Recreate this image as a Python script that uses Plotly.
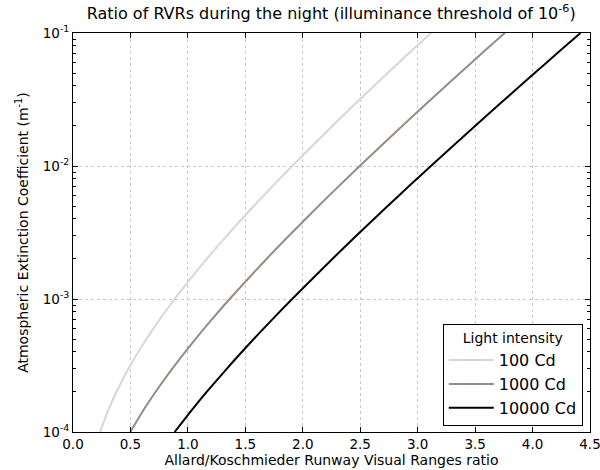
import plotly.graph_objects as go

# Atmospheric extinction coefficient (m^-1)
sigma = [1e-4, 1.5e-4, 2e-4, 3e-4, 5e-4, 7e-4, 1e-3, 2e-3, 3e-3, 5e-3, 7e-3,
         1e-2, 2e-2, 3e-2, 5e-2, 7e-2, 1e-1]
# Allard/Koschmieder RVR ratio for each light intensity
ratio_100 = [0.2345, 0.3128, 0.3781, 0.4839, 0.6391, 0.7535, 0.8845, 1.1637, 1.3400,
             1.5734, 1.7333, 1.9073, 2.2571, 2.4679, 2.7390, 2.9204, 3.1152]
ratio_1000 = [0.4988, 0.6220, 0.7180, 0.8646, 1.0657, 1.2070, 1.3635, 1.6846, 1.8813,
              2.1369, 2.3095, 2.4956, 2.8655, 3.0864, 3.3685, 3.5566, 3.7578]
ratio_10000 = [0.8845, 1.0442, 1.1637, 1.3400, 1.5734, 1.7333, 1.9073, 2.2571, 2.4679,
               2.7390, 2.9204, 3.1152, 3.4998, 3.7279, 4.0184, 4.2115, 4.4173]

series_names = ["100 Cd", "1000 Cd", "10000 Cd"]
series_colors = ["#dcd5d5", "#958b89", "#000000"]

x_ticks = [0.0, 0.5, 1.0, 1.5, 2.0, 2.5, 3.0, 3.5, 4.0, 4.5]
x_ticktext = ["0.0", "0.5", "1.0", "1.5", "2.0", "2.5", "3.0", "3.5", "4.0", "4.5"]
y_ticks = [1e-4, 1e-3, 1e-2, 1e-1]
y_ticktext = ["10<sup>-4</sup>", "10<sup>-3</sup>", "10<sup>-2</sup>", "10<sup>-1</sup>"]
y_minor_ticks = [m * d for d in [1e-4, 1e-3, 1e-2] for m in range(2, 10)]

fig = go.Figure()
for name, xs, col in zip(series_names, [ratio_100, ratio_1000, ratio_10000], series_colors):
    fig.add_trace(go.Scatter(x=xs, y=sigma, mode="lines", name=name,
                             line=dict(color=col, width=2, shape="spline", smoothing=0.8)))

font = "DejaVu Sans"
fig.update_layout(
    width=600, height=470,
    margin=dict(l=73, r=10, t=33, b=38),
    paper_bgcolor="white", plot_bgcolor="white",
    font=dict(family=font, size=13.5, color="black"),
    title=dict(text="Ratio of RVRs during the night (illuminance threshold of 10<sup>-6</sup>)",
               x=0.552, xanchor="center", y=0.983, yanchor="top",
               font=dict(family=font, size=16, color="black")),
    legend=dict(x=0.986, xanchor="right", y=0.015, yanchor="bottom",
                bordercolor="black", borderwidth=1, bgcolor="white",
                font=dict(family=font, size=16),
                title=dict(text="Light intensity", side="top center",
                           font=dict(family=font, size=14)),
                tracegroupgap=2, itemwidth=45),
    showlegend=True,
)
fig.update_xaxes(
    range=[0, 4.5], tickvals=x_ticks, ticktext=x_ticktext, automargin=False,
    ticklabeloverflow="allow",
    showline=True, linecolor="black", linewidth=1, mirror="allticks",
    ticks="inside", ticklen=5, tickcolor="black",
    showgrid=True, gridcolor="#c8c8c8", griddash="dot", gridwidth=1,
    zeroline=False,
    title=dict(text="Allard/Koschmieder Runway Visual Ranges ratio", standoff=0,
               font=dict(family=font, size=14)),
)
fig.update_yaxes(
    type="log", range=[-4, -1], tickvals=y_ticks, ticktext=y_ticktext, automargin=False,
    ticklabeloverflow="allow",
    showline=True, linecolor="black", linewidth=1, mirror="allticks",
    ticks="inside", ticklen=5, tickcolor="black",
    minor=dict(ticks="inside", ticklen=3, tickcolor="black", showgrid=False,
               tickvals=y_minor_ticks),
    showgrid=True, gridcolor="#c8c8c8", griddash="dot", gridwidth=1,
    zeroline=False,
    title=dict(text="Atmospheric Extinction Coefficient (m<sup>-1</sup>)", standoff=10,
               font=dict(family=font, size=14)),
)

fig.write_html("out.html", config={"displayModeBar": False},
               post_script="document.body.style.margin='0px';")
